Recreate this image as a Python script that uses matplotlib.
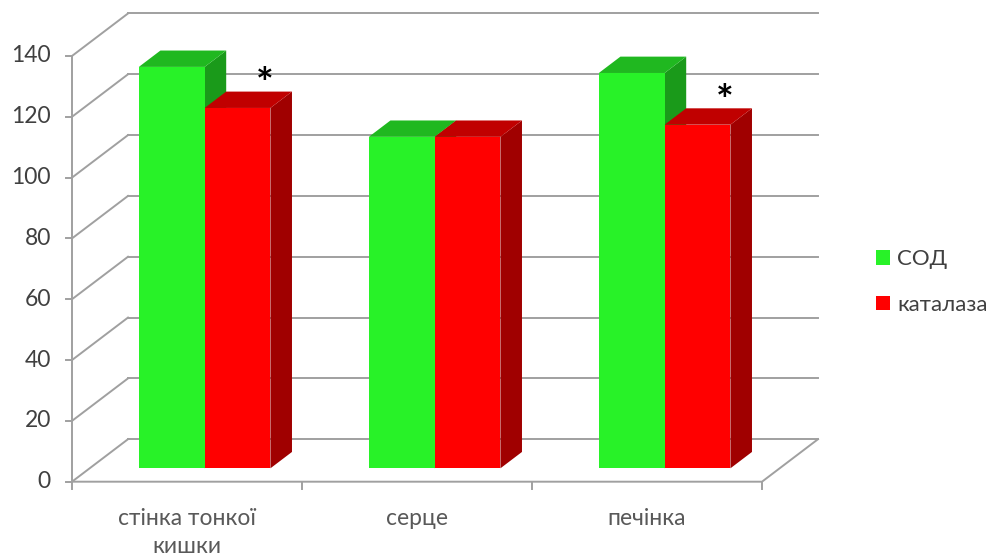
import matplotlib.pyplot as plt
from matplotlib.patches import Polygon, Rectangle

categories = ['стінка тонкої\nкишки', 'серце', 'печінка']
series_names = ['СОД', 'каталаза']
sod = [132.0, 109.0, 130.0]
catalase = [118.5, 109.0, 113.0]
starred = [0, 2]          # categories where catalase is marked with *
y_ticks = [0, 20, 40, 60, 80, 100, 120, 140]

front_colors = ['#28f228', '#ff0000']
top_colors = ['#20b820', '#c00000']
side_colors = ['#1a9a1a', '#a00000']
grid_color = '#a0a0a0'

plt.rcParams['font.family'] = ['Lato', 'DejaVu Sans']

# pixel layout of the oblique "3d" box
W, H = 995, 554
X0_PX, Y0_PX = 72.0, 72.3
PX_PER_CAT, PX_PER_VAL = 230.0, 3.041
DX = 56.0 / PX_PER_CAT      # depth shift in category units
DY = 42.5 / PX_PER_VAL      # depth shift in value units
BAR_W = 0.286
D_FRONT, D_BACK = 0.315, 0.70


def proj(x, v, d):
    return (x + d * DX, v + d * DY)


fig = plt.figure(figsize=(W / 100, H / 100), dpi=100)
ax = fig.add_axes([0, 0, 1, 1])
ax.set_xlim(-X0_PX / PX_PER_CAT, (W - X0_PX) / PX_PER_CAT)
ax.set_ylim(-Y0_PX / PX_PER_VAL, (H - Y0_PX) / PX_PER_VAL)
ax.axis('off')

n = len(categories)
lw = 1.4

# walls: back gridlines + side wall diagonals
for t in y_ticks:
    (x1, y1), (x2, y2) = proj(0, t, 1), proj(n, t, 1)
    ax.plot([x1, x2], [y1, y2], color=grid_color, lw=lw, zorder=1)
    (x1, y1), (x2, y2) = proj(0, t, 0), proj(0, t, 1)
    ax.plot([x1, x2], [y1, y2], color=grid_color, lw=lw, zorder=1)
    ax.plot([-6 / PX_PER_CAT, 0], [t, t], color=grid_color, lw=lw, zorder=1)
    ax.text(-21 / PX_PER_CAT, t, str(t), ha='right', va='center',
            fontsize=16.5, color='#404040')

# front value axis and floor
ax.plot([0, 0], [0, y_ticks[-1]], color=grid_color, lw=lw, zorder=1)
fx, fy = proj(n, 0, 1)
ax.plot([0, n, fx], [0, 0, fy], color=grid_color, lw=lw, zorder=1)
for i in range(n + 1):
    ax.plot([i, i], [0, -7 / PX_PER_VAL], color=grid_color, lw=lw, zorder=1)

# bars
for i in range(n):
    for s, vals in enumerate([sod, catalase]):
        v = vals[i]
        xl = i + 0.5 - BAR_W + s * BAR_W
        xr = xl + BAR_W
        front = [proj(xl, 0, D_FRONT), proj(xr, 0, D_FRONT),
                 proj(xr, v, D_FRONT), proj(xl, v, D_FRONT)]
        top = [proj(xl, v, D_FRONT), proj(xr, v, D_FRONT),
               proj(xr, v, D_BACK), proj(xl, v, D_BACK)]
        side = [proj(xr, 0, D_FRONT), proj(xr, 0, D_BACK),
                proj(xr, v, D_BACK), proj(xr, v, D_FRONT)]
        ax.add_patch(Polygon(side, closed=True, fc=side_colors[s], ec='none', zorder=3))
        ax.add_patch(Polygon(top, closed=True, fc=top_colors[s], ec='none', zorder=3))
        ax.add_patch(Polygon(front, closed=True, fc=front_colors[s], ec='none', zorder=3))

# significance marks
for i in starred:
    ax.text(i + 0.5 + BAR_W / 2 + 0.195, catalase[i] + 11.5, '*', ha='center',
            va='center', fontsize=30, fontweight='bold', color='black', zorder=4)

# category labels
for i, name in enumerate(categories):
    ax.text(i + 0.5, -8.5, name, ha='center', va='top', fontsize=16.5,
            color='#595959', linespacing=1.45)

handles = [Rectangle((0, 0), 1, 1, fc=c, ec='none') for c in front_colors]
ax.legend(handles, series_names, loc='center left',
          bbox_to_anchor=(856 / W, 1 - 282 / H), frameon=False,
          handlelength=0.65, handleheight=0.65, handletextpad=0.3,
          labelspacing=1.15, prop={'size': 16}, labelcolor='#404040')

fig.savefig('out.png', dpi=100)
